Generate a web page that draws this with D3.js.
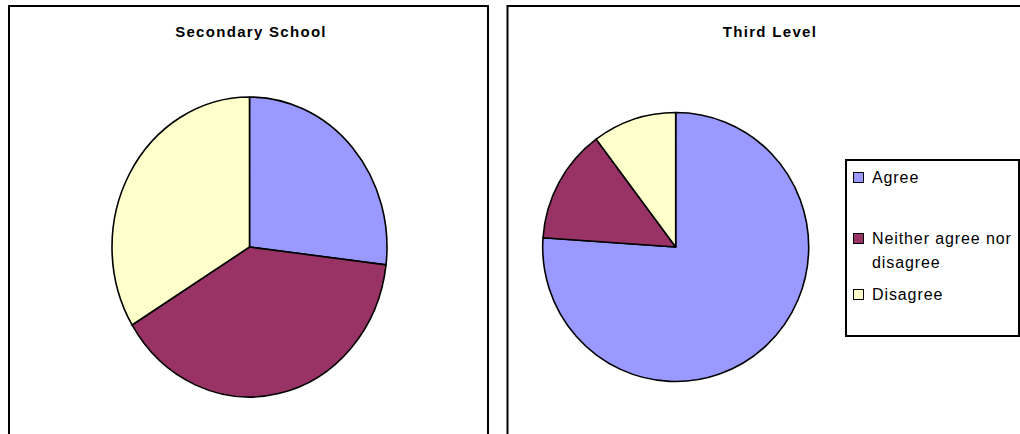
<!DOCTYPE html>
<html>
<head>
<meta charset="utf-8">
<script src="https://cdn.jsdelivr.net/npm/d3@7"></script>
<style>
  html, body { margin: 0; padding: 0; background: #fff; }
  svg { display: block; }
  text { font-family: "Liberation Sans", Arial, sans-serif; fill: #000; }
</style>
</head>
<body>
<svg id="chart" width="1020" height="434"></svg>
<script>
// Survey responses (% of respondents)
const categories = ["Agree", "Neither agree nor disagree", "Disagree"];
const colors = ["#9999FF", "#993366", "#FFFFCC"];
const secondaryValues = [26.9, 39.4, 33.7];
const thirdLevelValues = [76.1, 13.7, 10.2];
const titles = ["Secondary School", "Third Level"];

const svg = d3.select("#chart");

const panels = [
  { title: titles[0], values: secondaryValues, x: 9, w: 479, cx: 249.5, cy: 247, rx: 137.5, ry: 150, titleX: 251 },
  { title: titles[1], values: thirdLevelValues, x: 507.5, w: 520, cx: 675.7, cy: 247, rx: 133, ry: 134.5, titleX: 770 }
];

const pie = d3.pie().sort(null).value(d => d);

panels.forEach(p => {
  const g = svg.append("g");
  g.append("rect")
    .attr("x", p.x).attr("y", 6)
    .attr("width", p.w).attr("height", 440)
    .attr("fill", "#fff").attr("stroke", "#000").attr("stroke-width", 2);

  g.append("text")
    .attr("x", p.titleX).attr("y", 37)
    .attr("text-anchor", "middle")
    .attr("font-size", 15).attr("font-weight", "bold")
    .attr("letter-spacing", 1.3)
    .text(p.title);

  const arc = d3.arc().innerRadius(0).outerRadius(p.ry);
  const pg = g.append("g")
    .attr("transform", `translate(${p.cx},${p.cy}) scale(${p.rx / p.ry},1)`);
  pg.selectAll("path")
    .data(pie(p.values))
    .join("path")
    .attr("d", arc)
    .attr("fill", (d, i) => colors[i])
    .attr("stroke", "#000")
    .attr("stroke-width", 1.6)
    .attr("stroke-linejoin", "round")
    .attr("vector-effect", "non-scaling-stroke");
});

// Legend
const legend = svg.append("g");
legend.append("rect")
  .attr("x", 846).attr("y", 160).attr("width", 173).attr("height", 176)
  .attr("fill", "#fff").attr("stroke", "#000").attr("stroke-width", 2);

const baselines = [183, 244, 300];
const maxLabelWidth = 146;

categories.forEach((name, i) => {
  const item = legend.append("g");
  item.append("rect")
    .attr("x", 853.5).attr("y", baselines[i] - 10.5)
    .attr("width", 10).attr("height", 10)
    .attr("fill", colors[i]).attr("stroke", "#000").attr("stroke-width", 1);

  const t = item.append("text")
    .attr("x", 872).attr("y", baselines[i])
    .attr("font-size", 16).attr("letter-spacing", 0.9);

  // wrap long labels onto extra lines
  const words = name.split(" ");
  let line = [];
  let tspan = t.append("tspan").attr("x", 872).attr("dy", 0);
  words.forEach(w => {
    line.push(w);
    tspan.text(line.join(" "));
    if (tspan.node().getComputedTextLength() > maxLabelWidth && line.length > 1) {
      line.pop();
      tspan.text(line.join(" "));
      line = [w];
      tspan = t.append("tspan").attr("x", 872).attr("dy", 24).text(w);
    }
  });
});
</script>
</body>
</html>
